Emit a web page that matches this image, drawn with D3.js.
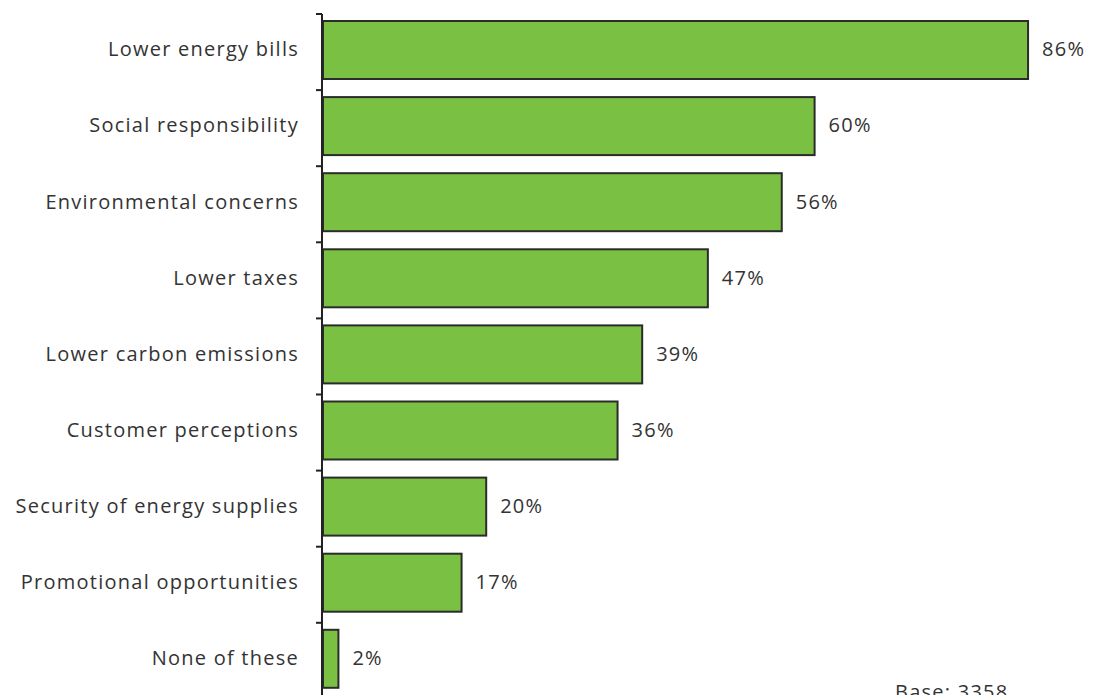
<!DOCTYPE html>
<html>
<head>
<meta charset="utf-8">
<script src="https://cdn.jsdelivr.net/npm/d3@7"></script>
<style>
  html, body { margin: 0; padding: 0; background: #fff; }
  svg { display: block; }
  text { font-family: "Open Sans", "Noto Sans", sans-serif; fill: #333; letter-spacing: 1.25px; }
</style>
</head>
<body>
<svg id="chart" width="1101" height="695"></svg>
<script>
// Reasons for adopting energy measures (share of respondents, %)
const categories = [
  "Lower energy bills",
  "Social responsibility",
  "Environmental concerns",
  "Lower taxes",
  "Lower carbon emissions",
  "Customer perceptions",
  "Security of energy supplies",
  "Promotional opportunities",
  "None of these"
];
const values = [86, 60, 56, 47, 39, 36, 20, 17, 2];
const baseNote = "Base: 3358";

const svg = d3.select("#chart");
const W = 1101, H = 695;
const axisX = 322;

const x = d3.scaleLinear().domain([0, 100]).range([axisX, axisX + 821]);
const y = d3.scaleBand().domain(categories).range([14, 14 + 76.1 * categories.length]).paddingInner(0).paddingOuter(0);

const barTop = 7, barH = 58;
const data = categories.map((c, i) => ({ c, v: values[i] }));

// bars
svg.append("g").selectAll("rect").data(data).join("rect")
  .attr("x", x(0) + 1)
  .attr("y", d => y(d.c) + barTop)
  .attr("width", d => x(d.v) - x(0) - 1)
  .attr("height", barH)
  .attr("fill", "#7ac143")
  .attr("stroke", "#2b2b2b")
  .attr("stroke-width", 2);

// category axis with ticks at band boundaries
const axisG = svg.append("g");
axisG.append("line")
  .attr("x1", axisX).attr("x2", axisX)
  .attr("y1", y.range()[0]).attr("y2", H)
  .attr("stroke", "#222").attr("stroke-width", 2);
axisG.selectAll("line.tick").data(categories).join("line")
  .attr("class", "tick")
  .attr("x1", axisX - 6).attr("x2", axisX)
  .attr("y1", d => y(d)).attr("y2", d => y(d))
  .attr("stroke", "#222").attr("stroke-width", 2);

// category labels
svg.append("g").selectAll("text").data(data).join("text")
  .attr("x", 299)
  .attr("y", d => y(d.c) + barTop + barH / 2 + 1)
  .attr("text-anchor", "end")
  .attr("dominant-baseline", "middle")
  .attr("font-size", 20)
  .text(d => d.c);

// value labels
svg.append("g").selectAll("text").data(data).join("text")
  .attr("x", d => x(d.v) + 14)
  .attr("y", d => y(d.c) + barTop + barH / 2 + 1)
  .attr("dominant-baseline", "middle")
  .attr("font-size", 20)
  .text(d => d.v + "%");

// base note
svg.append("text")
  .attr("x", 895).attr("y", 699)
  .attr("font-size", 20)
  .text(baseNote);
</script>
</body>
</html>
